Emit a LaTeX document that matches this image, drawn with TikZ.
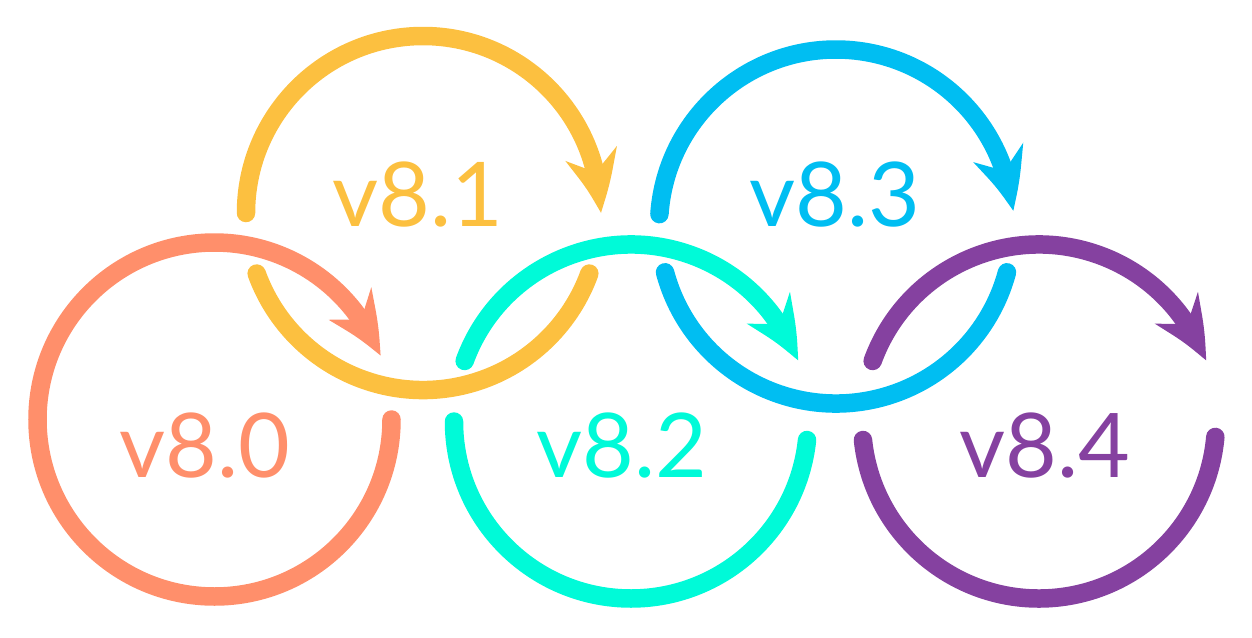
\documentclass[tikz,border=0pt]{standalone}
\usepackage{fontspec}
\setmainfont{Lato}
\usepackage{tikz}
\usetikzlibrary{arrows.meta, bending}
\definecolor{vorange}{RGB}{255,143,107}
\definecolor{vyellow}{RGB}{252,192,64}
\definecolor{vaqua}{RGB}{0,250,216}
\definecolor{vblue}{RGB}{0,190,242}
\definecolor{vpurple}{RGB}{133,65,160}

\begin{document}
\begin{tikzpicture}[
    ring/.style={line width=0.185cm, line cap=round},
    tip/.style={-{Stealth[length=0.6cm, width=0.52cm, inset=0.19cm, bend]}},
    lbl/.style={inner sep=0, font=\fontsize{25.4}{30}\selectfont}
  ]
  \useasboundingbox (0, 0) rectangle (12.52, 6.37);
  \coordinate (c80) at (2.145, 2.175);
  \coordinate (c81) at (4.23, 4.24);
  \coordinate (c82) at (6.31, 2.155);
  \coordinate (c83) at (8.36, 4.105);
  \coordinate (c84) at (10.39, 2.155);
  % v8.0
  \draw[ring, tip, vorange] (c80) ++(0:1.77) arc[start angle=0, end angle=-339, radius=1.77];
  \node[lbl, text=vorange] (v80) at (2.05, 1.91) {v8.0};
  % v8.1
  \draw[ring, tip, vyellow] (c81) ++(180:1.77) arc[start angle=180, end angle=0, radius=1.77];
  \draw[ring, vyellow] (c81) ++(200:1.77) arc[start angle=200, end angle=340, radius=1.77];
  \node[lbl, text=vyellow] (v81) at (4.18, 4.42) {v8.1};
  % v8.2
  \draw[ring, tip, vaqua] (c82) ++(160:1.77) arc[start angle=160, end angle=20, radius=1.77];
  \draw[ring, vaqua] (c82) ++(180:1.77) arc[start angle=180, end angle=354, radius=1.77];
  \node[lbl, text=vaqua] (v82) at (6.22, 1.91) {v8.2};
  % v8.3
  \draw[ring, tip, vblue] (c83) ++(176:1.77) arc[start angle=176, end angle=5, radius=1.77];
  \draw[ring, vblue] (c83) ++(195:1.77) arc[start angle=195, end angle=345, radius=1.77];
  \node[lbl, text=vblue] (v83) at (8.35, 4.42) {v8.3};
  % v8.4
  \draw[ring, tip, vpurple] (c84) ++(160:1.77) arc[start angle=160, end angle=20, radius=1.77];
  \draw[ring, vpurple] (c84) ++(186:1.77) arc[start angle=186, end angle=355, radius=1.77];
  \node[lbl, text=vpurple] (v84) at (10.45, 1.91) {v8.4};
\end{tikzpicture}
\end{document}
